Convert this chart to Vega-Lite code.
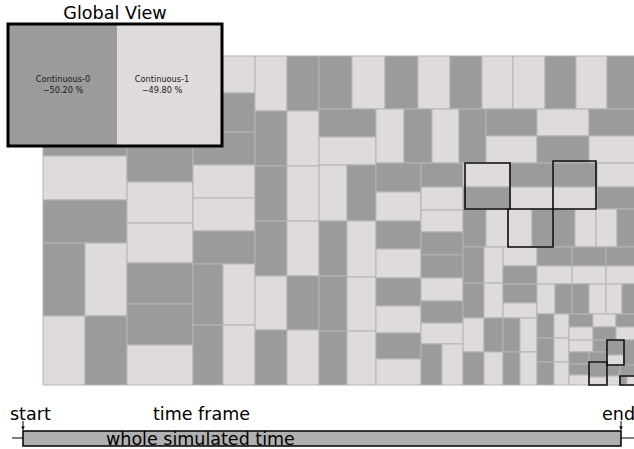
{
  "$schema": "https://vega.github.io/schema/vega-lite/v6.json",
  "width": 634,
  "height": 449,
  "autosize": {"type": "none"},
  "padding": 0,
  "background": "white",
  "config": {"view": {"stroke": null}, "font": "DejaVu Sans"},
  "datasets": {
    "cells": [
      {"x":43,"x2":127,"y":56,"y2":156,"c":"d"},{"x":43,"x2":127,"y":156,"y2":200,"c":"l"},{"x":43,"x2":127,"y":200,"y2":243,"c":"d"},
      {"x":43,"x2":85,"y":243,"y2":316,"c":"d"},{"x":85,"x2":127,"y":243,"y2":316,"c":"l"},{"x":43,"x2":85,"y":316,"y2":385,"c":"l"},{"x":85,"x2":127,"y":316,"y2":385,"c":"d"},
      {"x":127,"x2":193,"y":56,"y2":182,"c":"d"},{"x":127,"x2":193,"y":182,"y2":223,"c":"l"},{"x":127,"x2":193,"y":223,"y2":263,"c":"l"},{"x":127,"x2":193,"y":263,"y2":304,"c":"d"},{"x":127,"x2":193,"y":304,"y2":345,"c":"d"},{"x":127,"x2":193,"y":345,"y2":385,"c":"l"},
      {"x":193,"x2":255,"y":56,"y2":93,"c":"l"},{"x":193,"x2":255,"y":93,"y2":132,"c":"d"},{"x":193,"x2":255,"y":132,"y2":165,"c":"d"},{"x":193,"x2":255,"y":165,"y2":198,"c":"l"},{"x":193,"x2":255,"y":198,"y2":231,"c":"l"},{"x":193,"x2":255,"y":231,"y2":264,"c":"d"},
      {"x":193,"x2":223,"y":264,"y2":325,"c":"d"},{"x":193,"x2":223,"y":325,"y2":385,"c":"d"},{"x":223,"x2":255,"y":264,"y2":325,"c":"l"},{"x":223,"x2":255,"y":325,"y2":385,"c":"l"},
      {"x":255,"x2":287,"y":56,"y2":111,"c":"l"},{"x":255,"x2":287,"y":111,"y2":166,"c":"d"},{"x":255,"x2":287,"y":166,"y2":221,"c":"d"},{"x":255,"x2":287,"y":221,"y2":276,"c":"d"},{"x":255,"x2":287,"y":276,"y2":330,"c":"l"},{"x":255,"x2":287,"y":330,"y2":385,"c":"d"},
      {"x":287,"x2":319,"y":56,"y2":111,"c":"d"},{"x":287,"x2":319,"y":111,"y2":166,"c":"l"},{"x":287,"x2":319,"y":166,"y2":221,"c":"l"},{"x":287,"x2":319,"y":221,"y2":276,"c":"l"},{"x":287,"x2":319,"y":276,"y2":330,"c":"d"},{"x":287,"x2":319,"y":330,"y2":385,"c":"l"},
      {"x":319,"x2":352,"y":56,"y2":109,"c":"d"},{"x":352,"x2":385,"y":56,"y2":109,"c":"l"},{"x":385,"x2":418,"y":56,"y2":109,"c":"d"},{"x":418,"x2":450,"y":56,"y2":109,"c":"l"},{"x":450,"x2":482,"y":56,"y2":109,"c":"d"},
      {"x":482,"x2":513,"y":56,"y2":109,"c":"l"},{"x":513,"x2":545,"y":56,"y2":109,"c":"l"},{"x":545,"x2":576,"y":56,"y2":109,"c":"d"},{"x":576,"x2":607,"y":56,"y2":109,"c":"l"},{"x":607,"x2":637,"y":56,"y2":109,"c":"d"},
      {"x":319,"x2":376,"y":109,"y2":137,"c":"d"},{"x":319,"x2":376,"y":137,"y2":165,"c":"l"},{"x":376,"x2":404,"y":109,"y2":163,"c":"l"},{"x":404,"x2":432,"y":109,"y2":163,"c":"d"},{"x":432,"x2":459,"y":109,"y2":163,"c":"l"},{"x":459,"x2":486,"y":109,"y2":163,"c":"d"},
      {"x":486,"x2":537,"y":109,"y2":136,"c":"d"},{"x":486,"x2":537,"y":136,"y2":163,"c":"l"},{"x":537,"x2":589,"y":109,"y2":136,"c":"l"},{"x":537,"x2":589,"y":136,"y2":163,"c":"d"},{"x":589,"x2":637,"y":109,"y2":136,"c":"d"},{"x":589,"x2":637,"y":136,"y2":163,"c":"l"},
      {"x":319,"x2":347,"y":165,"y2":221,"c":"l"},{"x":319,"x2":347,"y":221,"y2":276,"c":"d"},{"x":319,"x2":347,"y":276,"y2":331,"c":"d"},{"x":319,"x2":347,"y":331,"y2":385,"c":"d"},
      {"x":347,"x2":376,"y":165,"y2":221,"c":"d"},{"x":347,"x2":376,"y":221,"y2":277,"c":"l"},{"x":347,"x2":376,"y":277,"y2":331,"c":"l"},{"x":347,"x2":376,"y":331,"y2":385,"c":"l"},
      {"x":376,"x2":421,"y":163,"y2":192,"c":"d"},{"x":376,"x2":421,"y":192,"y2":221,"c":"l"},{"x":376,"x2":421,"y":221,"y2":249,"c":"d"},{"x":376,"x2":421,"y":249,"y2":278,"c":"l"},
      {"x":376,"x2":421,"y":278,"y2":306,"c":"d"},{"x":376,"x2":421,"y":306,"y2":333,"c":"l"},{"x":376,"x2":421,"y":333,"y2":359,"c":"d"},{"x":376,"x2":421,"y":359,"y2":385,"c":"l"},
      {"x":421,"x2":463,"y":163,"y2":187,"c":"d"},{"x":421,"x2":463,"y":187,"y2":210,"c":"l"},{"x":421,"x2":463,"y":210,"y2":232,"c":"l"},{"x":421,"x2":463,"y":232,"y2":255,"c":"d"},
      {"x":421,"x2":463,"y":255,"y2":278,"c":"d"},{"x":421,"x2":463,"y":278,"y2":301,"c":"l"},{"x":421,"x2":463,"y":301,"y2":323,"c":"d"},{"x":421,"x2":463,"y":323,"y2":344,"c":"l"},
      {"x":421,"x2":442,"y":344,"y2":385,"c":"d"},{"x":442,"x2":463,"y":344,"y2":385,"c":"l"},
      {"x":463,"x2":510,"y":163,"y2":187,"c":"l"},{"x":463,"x2":510,"y":187,"y2":209,"c":"d"},{"x":510,"x2":553,"y":163,"y2":187,"c":"d"},{"x":510,"x2":553,"y":187,"y2":209,"c":"l"},
      {"x":553,"x2":597,"y":163,"y2":187,"c":"d"},{"x":553,"x2":597,"y":187,"y2":209,"c":"l"},{"x":597,"x2":637,"y":163,"y2":187,"c":"l"},{"x":597,"x2":637,"y":187,"y2":209,"c":"d"},
      {"x":463,"x2":486,"y":209,"y2":247,"c":"d"},{"x":486,"x2":508,"y":209,"y2":247,"c":"l"},{"x":508,"x2":532,"y":209,"y2":247,"c":"l"},{"x":532,"x2":553,"y":209,"y2":247,"c":"d"},
      {"x":553,"x2":575,"y":209,"y2":247,"c":"d"},{"x":575,"x2":596,"y":209,"y2":247,"c":"l"},{"x":596,"x2":617,"y":209,"y2":247,"c":"l"},{"x":617,"x2":637,"y":209,"y2":247,"c":"d"},
      {"x":463,"x2":484,"y":247,"y2":283,"c":"d"},{"x":463,"x2":484,"y":283,"y2":318,"c":"d"},{"x":484,"x2":503,"y":247,"y2":283,"c":"l"},{"x":484,"x2":503,"y":283,"y2":318,"c":"l"},
      {"x":503,"x2":537,"y":247,"y2":266,"c":"l"},{"x":503,"x2":537,"y":266,"y2":284,"c":"d"},{"x":503,"x2":537,"y":284,"y2":303,"c":"d"},{"x":503,"x2":537,"y":303,"y2":318,"c":"l"},
      {"x":537,"x2":572,"y":247,"y2":266,"c":"d"},{"x":537,"x2":572,"y":266,"y2":284,"c":"l"},{"x":572,"x2":606,"y":247,"y2":266,"c":"d"},{"x":572,"x2":606,"y":266,"y2":284,"c":"l"},
      {"x":606,"x2":637,"y":247,"y2":266,"c":"d"},{"x":606,"x2":637,"y":266,"y2":284,"c":"l"},
      {"x":537,"x2":555,"y":284,"y2":314,"c":"l"},{"x":555,"x2":572,"y":284,"y2":314,"c":"d"},{"x":572,"x2":589,"y":284,"y2":314,"c":"d"},{"x":589,"x2":606,"y":284,"y2":314,"c":"l"},
      {"x":606,"x2":622,"y":284,"y2":314,"c":"l"},{"x":622,"x2":637,"y":284,"y2":314,"c":"d"},
      {"x":463,"x2":484,"y":318,"y2":352,"c":"l"},{"x":484,"x2":503,"y":318,"y2":352,"c":"d"},{"x":463,"x2":484,"y":352,"y2":385,"c":"d"},{"x":484,"x2":503,"y":352,"y2":385,"c":"l"},
      {"x":503,"x2":520,"y":318,"y2":352,"c":"d"},{"x":520,"x2":537,"y":318,"y2":352,"c":"l"},{"x":503,"x2":520,"y":352,"y2":385,"c":"d"},{"x":520,"x2":537,"y":352,"y2":385,"c":"l"},
      {"x":537,"x2":554,"y":314,"y2":338,"c":"d"},{"x":537,"x2":554,"y":338,"y2":362,"c":"d"},{"x":537,"x2":554,"y":362,"y2":385,"c":"d"},
      {"x":554,"x2":569,"y":314,"y2":338,"c":"l"},{"x":554,"x2":569,"y":338,"y2":362,"c":"l"},{"x":554,"x2":569,"y":362,"y2":385,"c":"l"},
      {"x":569,"x2":593,"y":314,"y2":327,"c":"d"},{"x":569,"x2":593,"y":327,"y2":340,"c":"l"},{"x":569,"x2":593,"y":340,"y2":352,"c":"l"},
      {"x":569,"x2":589,"y":352,"y2":364,"c":"d"},{"x":569,"x2":589,"y":364,"y2":375,"c":"d"},{"x":569,"x2":589,"y":375,"y2":385,"c":"l"},
      {"x":593,"x2":616,"y":314,"y2":327,"c":"l"},{"x":616,"x2":637,"y":314,"y2":327,"c":"d"},{"x":593,"x2":616,"y":327,"y2":340,"c":"d"},{"x":616,"x2":637,"y":327,"y2":340,"c":"l"},
      {"x":593,"x2":607,"y":340,"y2":352,"c":"d"},{"x":589,"x2":607,"y":352,"y2":362,"c":"d"},
      {"x":607,"x2":624,"y":340,"y2":355,"c":"d"},{"x":607,"x2":624,"y":355,"y2":365,"c":"l"},{"x":624,"x2":637,"y":340,"y2":365,"c":"d"},
      {"x":589,"x2":607,"y":362,"y2":377,"c":"d"},{"x":589,"x2":607,"y":377,"y2":385,"c":"l"},
      {"x":607,"x2":620,"y":365,"y2":376,"c":"d"},{"x":607,"x2":620,"y":376,"y2":385,"c":"l"},
      {"x":620,"x2":637,"y":365,"y2":376,"c":"d"},{"x":620,"x2":627,"y":376,"y2":385,"c":"d"},{"x":627,"x2":637,"y":376,"y2":385,"c":"l"}
    ],
    "boxes": [
      {"x":465,"x2":510,"y":163,"y2":209},{"x":508,"x2":553,"y":209,"y2":247},{"x":553,"x2":596,"y":161,"y2":209},
      {"x":607,"x2":624,"y":340,"y2":365},{"x":589,"x2":607,"y":362,"y2":385},{"x":620,"x2":640,"y":376,"y2":385}
    ],
    "inset": [
      {"x":9,"x2":117,"y":25,"y2":145,"c":"d"},{"x":117,"x2":221,"y":25,"y2":145,"c":"l"}
    ]
  },
  "layer": [
    {
      "data": {"name": "cells"},
      "mark": {"type": "rect", "stroke": "#b4b4b4", "strokeWidth": 1},
      "encoding": {
        "x": {"field": "x", "type": "quantitative", "scale": {"domain": [0, 634], "nice": false, "zero": false}, "axis": null},
        "x2": {"field": "x2"},
        "y": {"field": "y", "type": "quantitative", "scale": {"domain": [0, 449], "nice": false, "zero": false, "reverse": true}, "axis": null},
        "y2": {"field": "y2"},
        "color": {"field": "c", "type": "nominal", "scale": {"domain": ["d", "l"], "range": ["#9b9b9b", "#e0dbdb"]}, "legend": null}
      }
    },
    {
      "data": {"name": "boxes"},
      "mark": {"type": "rect", "fillOpacity": 0, "stroke": "#111111", "strokeWidth": 1.6},
      "encoding": {
        "x": {"field": "x", "type": "quantitative"},
        "x2": {"field": "x2"},
        "y": {"field": "y", "type": "quantitative"},
        "y2": {"field": "y2"}
      }
    },
    {
      "data": {"name": "inset"},
      "mark": {"type": "rect"},
      "encoding": {
        "x": {"field": "x", "type": "quantitative"},
        "x2": {"field": "x2"},
        "y": {"field": "y", "type": "quantitative"},
        "y2": {"field": "y2"},
        "color": {"field": "c", "type": "nominal", "legend": null}
      }
    },
    {
      "data": {"values": [{"x": 8, "x2": 222, "y": 24, "y2": 146}]},
      "mark": {"type": "rect", "fillOpacity": 0, "stroke": "black", "strokeWidth": 3},
      "encoding": {
        "x": {"field": "x", "type": "quantitative"},
        "x2": {"field": "x2"},
        "y": {"field": "y", "type": "quantitative"},
        "y2": {"field": "y2"}
      }
    },
    {
      "data": {"values": [
        {"x": 63, "y": 80, "t": "Continuous-0"}, {"x": 63, "y": 91, "t": "−50.20 %"},
        {"x": 162, "y": 80, "t": "Continuous-1"}, {"x": 162, "y": 91, "t": "−49.80 %"}
      ]},
      "mark": {"type": "text", "fontSize": 8.2, "align": "center", "baseline": "middle", "color": "#1a1a1a"},
      "encoding": {
        "x": {"field": "x", "type": "quantitative"},
        "y": {"field": "y", "type": "quantitative"},
        "text": {"field": "t"}
      }
    },
    {
      "data": {"values": [{"x": 115, "y": 14, "t": "Global View"}]},
      "mark": {"type": "text", "fontSize": 17.6, "align": "center", "baseline": "middle", "color": "black"},
      "encoding": {
        "x": {"field": "x", "type": "quantitative"},
        "y": {"field": "y", "type": "quantitative"},
        "text": {"field": "t"}
      }
    },
    {
      "data": {"values": [{"x": 12, "x2": 23, "y": 438}, {"x": 621, "x2": 634, "y": 438}]},
      "mark": {"type": "rule", "color": "black", "strokeWidth": 1},
      "encoding": {
        "x": {"field": "x", "type": "quantitative"},
        "x2": {"field": "x2"},
        "y": {"field": "y", "type": "quantitative"}
      }
    },
    {
      "data": {"values": [{"x": 23, "x2": 621, "y": 431, "y2": 446}]},
      "mark": {"type": "rect", "fill": "#b0b0b0", "stroke": "black", "strokeWidth": 1.5},
      "encoding": {
        "x": {"field": "x", "type": "quantitative"},
        "x2": {"field": "x2"},
        "y": {"field": "y", "type": "quantitative"},
        "y2": {"field": "y2"}
      }
    },
    {
      "data": {"values": [{"x": 23, "y": 421, "y2": 430}, {"x": 621, "y": 421, "y2": 430}]},
      "mark": {"type": "rule", "color": "black", "strokeWidth": 1},
      "encoding": {
        "x": {"field": "x", "type": "quantitative"},
        "y": {"field": "y", "type": "quantitative"},
        "y2": {"field": "y2"}
      }
    },
    {
      "data": {"values": [{"x": 23, "y": 428}, {"x": 621, "y": 428}]},
      "mark": {"type": "point", "shape": "triangle-down", "filled": true, "color": "black", "size": 14, "opacity": 1},
      "encoding": {
        "x": {"field": "x", "type": "quantitative"},
        "y": {"field": "y", "type": "quantitative"}
      }
    },
    {
      "data": {"values": [{"x": 10, "y": 420, "t": "start"}, {"x": 153, "y": 420, "t": "time frame"}, {"x": 106, "y": 445, "t": "whole simulated time"}]},
      "mark": {"type": "text", "fontSize": 17.5, "align": "left", "baseline": "alphabetic", "color": "black"},
      "encoding": {
        "x": {"field": "x", "type": "quantitative"},
        "y": {"field": "y", "type": "quantitative"},
        "text": {"field": "t"}
      }
    },
    {
      "data": {"values": [{"x": 635, "y": 420, "t": "end"}]},
      "mark": {"type": "text", "fontSize": 17.5, "align": "right", "baseline": "alphabetic", "color": "black"},
      "encoding": {
        "x": {"field": "x", "type": "quantitative"},
        "y": {"field": "y", "type": "quantitative"},
        "text": {"field": "t"}
      }
    }
  ]
}
